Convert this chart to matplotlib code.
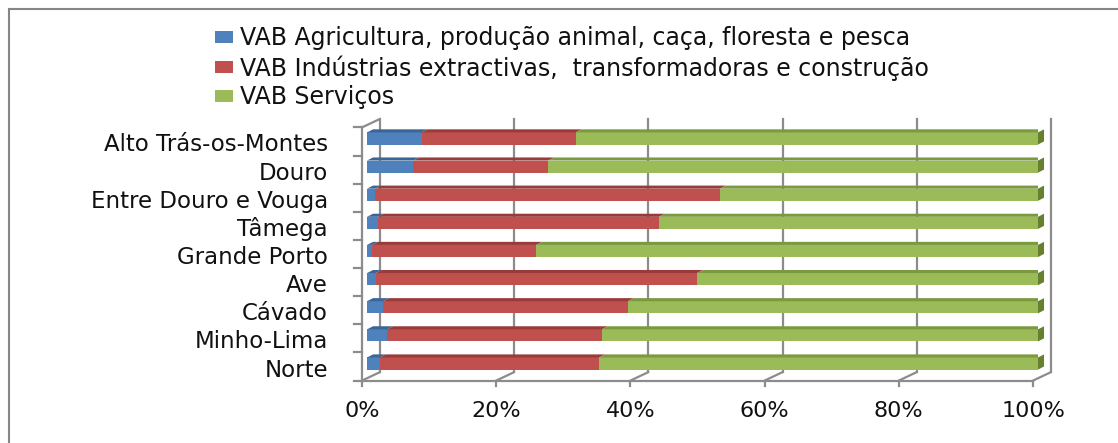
import numpy as np
import matplotlib
matplotlib.use("Agg")
import matplotlib.pyplot as plt
from matplotlib.transforms import ScaledTranslation
from matplotlib.patches import ConnectionPatch
from matplotlib.lines import Line2D

# dados (% do VAB por sub-região)
regioes = ["Norte", "Minho-Lima", "Cávado", "Ave", "Grande Porto",
           "Tâmega", "Entre Douro e Vouga", "Douro", "Alto Trás-os-Montes"]
agricultura = [1.9, 3.0, 2.4, 1.3, 0.7, 1.6, 1.2, 6.9, 8.2]
industria = [32.7, 32.0, 36.5, 47.9, 24.5, 41.9, 51.4, 20.1, 22.9]
servicos = [100 - a - b for a, b in zip(agricultura, industria)]

series = ["VAB Agricultura, produção animal, caça, floresta e pesca",
          "VAB Indústrias extractivas,  transformadoras e construção",
          "VAB Serviços"]
cores = ["#4F81BD", "#C0504D", "#9BBB59"]
cores_topo = ["#3B6597", "#983B39", "#7A9A3E"]
cor_lado = "#66802F"
ticks = [0, 20, 40, 60, 80, 100]
tick_labels = ["0%", "20%", "40%", "60%", "80%", "100%"]

W, H = 1118, 443
fig = plt.figure(figsize=(W / 100, H / 100), dpi=100)
# posicao do plano das barras em pixeis
x0, x1 = 367, 1038
ytop, ybot = 124.4, 377.6
ax = fig.add_axes([x0 / W, 1 - ybot / H, (x1 - x0) / W, (ybot - ytop) / H])
ax.set_xlim(0, 100)
ax.set_ylim(-0.5, 8.5)
for s in ax.spines.values():
    s.set_visible(False)

grey = "#8C8C8C"
lw = 1.6
back = ax.transData + ScaledTranslation(13 / 100, 5.5 / 100, fig.dpi_scale_trans)
front = ax.transData + ScaledTranslation(-5 / 100, -3 / 100, fig.dpi_scale_trans)

# parede de fundo
for t in ticks:
    ax.plot([t, t], [-0.5, 8.5], color=grey, lw=lw, transform=back, clip_on=False, zorder=1)
    con = ConnectionPatch(xyA=(t, -0.5), coordsA=back, xyB=(t, -0.5), coordsB=front,
                          color=grey, lw=lw, zorder=1)
    fig.add_artist(con)
    ax.plot([t, t], [-0.5, -0.68], color=grey, lw=lw, transform=front, clip_on=False)
# chao e parede lateral
ax.plot([0, 100], [-0.5, -0.5], color=grey, lw=lw, transform=front, clip_on=False)
ax.plot([0, 0], [-0.5, 8.5], color=grey, lw=lw, transform=front, clip_on=False)
fig.add_artist(ConnectionPatch(xyA=(0, 8.5), coordsA=front, xyB=(0, 8.5), coordsB=back,
                               color=grey, lw=lw))
for b in np.arange(-0.5, 9, 1):
    ax.plot([-1.2, 0], [b, b], color=grey, lw=lw, transform=front, clip_on=False)

# barras
y = np.arange(len(regioes))
h = 0.43
dx, dy = 0.9, 0.11
valores = [agricultura, industria, servicos]
esq = np.zeros(len(regioes))
handles = []
for k, vals in enumerate(valores):
    vals = np.array(vals)
    bc = ax.barh(y, vals, left=esq, height=h, color=cores[k], zorder=3)
    handles.append(bc)
    for yi, l, v in zip(y, esq, vals):
        yt = yi + h / 2
        ax.fill([l, l + v, l + v + dx, l + dx], [yt, yt, yt + dy, yt + dy],
                color=cores_topo[k], lw=0, zorder=3)
    esq = esq + vals
for yi, r in zip(y, esq):
    ax.fill([r, r + dx, r + dx, r], [yi - h / 2, yi - h / 2 + dy, yi + h / 2 + dy, yi + h / 2],
            color=cor_lado, lw=0, zorder=3, clip_on=False)

txt = "#111111"
ax.set_yticks(y, regioes, fontsize=16.5, color=txt)
ax.tick_params(axis="y", length=0, pad=28)
for lab in ax.get_yticklabels():
    lab.set_transform(lab.get_transform() + ScaledTranslation(0, -4 / 100, fig.dpi_scale_trans))
ax.set_xticks(ticks, tick_labels, fontsize=16, color=txt)
ax.tick_params(axis="x", length=0, pad=17)
for lab in ax.get_xticklabels():
    lab.set_transform(lab.get_transform() + ScaledTranslation(-5 / 100, 0, fig.dpi_scale_trans))

fig.legend(handles, series, loc="upper left", bbox_to_anchor=(215 / W, 1 - 26.5 / H),
           frameon=False, fontsize=17, handlelength=0.76, handleheight=0.42,
           handletextpad=0.3, labelspacing=0.2, borderpad=0, borderaxespad=0,
           labelcolor=txt)

# moldura exterior
fig.add_artist(Line2D([9 / W, 1], [1 - 9 / H, 1 - 9 / H], color="#868686", lw=1.5))
fig.add_artist(Line2D([9 / W, 9 / W], [0, 1 - 9 / H], color="#868686", lw=1.5))

fig.savefig("out.png", dpi=100)
